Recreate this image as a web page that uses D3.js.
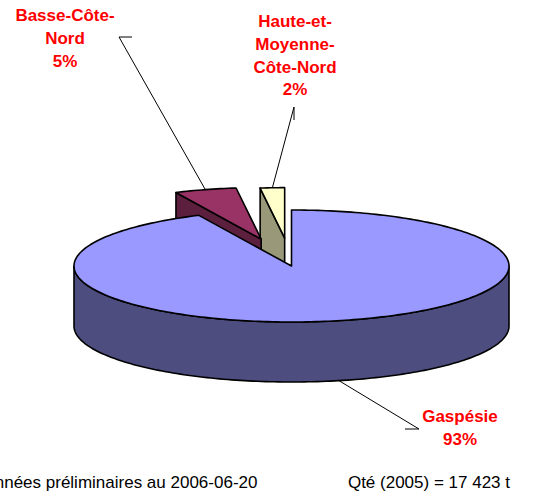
<!DOCTYPE html>
<html>
<head>
<meta charset="utf-8">
<script src="https://cdn.jsdelivr.net/npm/d3@7"></script>
<style>
  body { margin: 0; background: #fff; }
  svg { display: block; font-family: Arial, "Liberation Sans", sans-serif; }
</style>
</head>
<body>
<svg></svg>
<script>
// data
const categories = ['Gaspésie', 'Basse-Côte-Nord', 'Haute-et-Moyenne-Côte-Nord'];
const values = [93, 5, 2];
const labelLines = [['Gaspésie'], ['Basse-Côte-', 'Nord'], ['Haute-et-', 'Moyenne-', 'Côte-Nord']];
const footNote = 'Données préliminaires au 2006-06-20';
const totalNote = 'Qté (2005) = 17 423 t';

// styles / layout
const size = {w: 536, h: 500};
const pie3d = {cx: 291.5, cy: 266, rx: 217.5, ry: 56, depth: 60};
const topColors = ['#9999FF', '#993366', '#FFFFCC'];
const explode = [0, 0.5, 0.5];
const sliceScale = [1, 0.92, 0.9];   // exploded slices sit further back, look a bit smaller
const labelPos = [
    {x: 460, y: 422, line: [[419, 429], [405, 429]]},
    {x: 65, y: 21, line: [[119, 37], [132, 37]]},
    {x: 295, y: 27, line: [[294, 107], [294, 120]]}
];

const svg = d3.select('svg')
    .attr('width', size.w)
    .attr('height', size.h);

const slices = d3.pie().sort(null).value(d => d)(values);

function offsetOf(i) {
    const s = slices[i];
    const mid = (s.startAngle + s.endAngle) / 2;
    return [Math.sin(mid) * pie3d.rx * explode[i], -Math.cos(mid) * pie3d.ry * explode[i]];
}

function pt(a, r, z, o) {
    return [pie3d.cx + o[0] + Math.sin(a) * pie3d.rx * r,
            pie3d.cy + o[1] - Math.cos(a) * pie3d.ry * r + z];
}

function arcPts(a0, a1, r, z, o) {
    const n = Math.max(2, Math.ceil((a1 - a0) / 0.02));
    return d3.range(n + 1).map(k => pt(a0 + (a1 - a0) * k / n, r, z, o));
}

const line = d3.line();
const poly = pts => line(pts) + 'Z';

const g = svg.append('g').attr('class', 'pie');

// back slices first, big front slice last
d3.range(slices.length).reverse().forEach(function (i) {
    const s = slices[i];
    const o = offsetOf(i);
    const r = sliceScale[i];
    const dz = pie3d.depth;
    const a0 = s.startAngle, a1 = s.endAngle;
    const base = d3.rgb(topColors[i]);
    const shade = f => d3.rgb(base.r * f, base.g * f, base.b * f).formatHex();
    const faces = [];

    // cut faces
    if (Math.sin(a0) < -1e-6) {
        faces.push({d: poly([pt(a0, 0, 0, o), pt(a0, r, 0, o), pt(a0, r, dz, o), pt(a0, 0, dz, o)]), fill: shade(0.6)});
    }
    if (Math.sin(a1) > 1e-6) {
        faces.push({d: poly([pt(a1, 0, 0, o), pt(a1, r, 0, o), pt(a1, r, dz, o), pt(a1, 0, dz, o)]), fill: shade(0.6)});
    }
    // outer wall, front half only
    const s0 = Math.max(a0, Math.PI / 2), s1 = Math.min(a1, Math.PI * 1.5);
    if (s1 > s0) {
        faces.push({d: poly(arcPts(s0, s1, r, 0, o).concat(arcPts(s0, s1, r, dz, o).reverse())), fill: shade(0.5)});
    }
    // top
    faces.push({d: poly([pt(0, 0, 0, o)].concat(arcPts(a0, a1, r, 0, o))), fill: base.formatHex()});

    g.selectAll(null)
        .data(faces)
        .enter()
        .append('path')
        .attr('d', d => d.d)
        .attr('fill', d => d.fill)
        .attr('stroke', '#000')
        .attr('stroke-width', 1.6)
        .attr('stroke-linejoin', 'round');
});

// leader lines
slices.forEach(function (s, i) {
    const o = offsetOf(i);
    const mid = (s.startAngle + s.endAngle) / 2;
    const front = Math.cos(mid) < 0;
    const anchor = pt(mid, sliceScale[i], front ? pie3d.depth : 0, o);
    const pts = labelPos[i].line.slice().reverse().concat([anchor]);
    svg.append('path')
        .attr('d', line(pts))
        .attr('fill', 'none')
        .attr('stroke', '#000')
        .attr('stroke-width', 1);
});

// labels
const total = d3.sum(values);
slices.forEach(function (s, i) {
    const lines = labelLines[i].concat([Math.round(values[i] / total * 100) + '%']);
    const t = svg.append('text')
        .attr('text-anchor', 'middle')
        .attr('font-size', 17)
        .attr('font-weight', 'bold')
        .attr('fill', '#FF0000');
    t.selectAll('tspan')
        .data(lines)
        .enter()
        .append('tspan')
        .attr('x', labelPos[i].x)
        .attr('y', (d, k) => labelPos[i].y + k * 22.8)
        .text(d => d);
});

// footer (left note is clipped at the edge in the original too)
svg.append('text')
    .attr('x', -27)
    .attr('y', 488)
    .attr('font-size', 17)
    .attr('fill', '#000')
    .text(footNote);

svg.append('text')
    .attr('x', 510)
    .attr('y', 488)
    .attr('text-anchor', 'end')
    .attr('font-size', 17)
    .attr('fill', '#000')
    .text(totalNote);
</script>
</body>
</html>
